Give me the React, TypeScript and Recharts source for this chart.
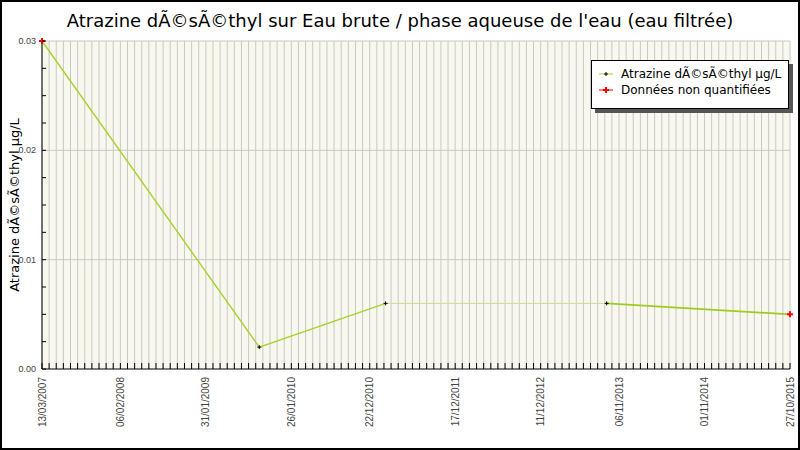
import { ComposedChart, Line, XAxis, YAxis, CartesianGrid, Legend } from "recharts";

const TITLE = "Atrazine dÃ©sÃ©thyl sur Eau brute / phase aqueuse de l'eau (eau filtrée)";
const Y_LABEL = "Atrazine dÃ©sÃ©thyl µg/L";

// samples
const sampleDates = ["13/03/2007", "13/09/2009", "27/02/2011", "15/09/2013", "27/10/2015"];
const sampleValues = [0.03, 0.002, 0.006, 0.006, 0.005];
const nonQuantified = [true, false, false, false, true];

// axis labels
const xTickLabels = ["13/03/2007", "06/02/2008", "31/01/2009", "26/01/2010", "22/12/2010", "17/12/2011", "11/12/2012", "06/11/2013", "01/11/2014", "27/10/2015"];
const yMajorTicks = [0, 0.01, 0.02, 0.03];
const yMinorStep = 0.0025;
const gridStepDays = 30;

const DAY = 86400000;
const toDay = (s: string) => {
  const [d, m, y] = s.split("/").map(Number);
  return Date.UTC(y, m - 1, d) / DAY;
};

const xStart = toDay(xTickLabels[0]);
const xEnd = toDay(xTickLabels[xTickLabels.length - 1]);
const xLabelDays = xTickLabels.map(toDay);
const xGridTicks: number[] = [];
for (let t = xStart; t <= xEnd + 0.5; t += gridStepDays) xGridTicks.push(t);
const yTicks: number[] = [];
for (let v = 0; v <= 0.03 + 1e-9; v += yMinorStep) yTicks.push(Number(v.toFixed(4)));

// line pieces, by sample index
const segments = [
  { key: "s1", from: 0, to: 2, color: "#a9d22c", width: 1.4 },
  { key: "s2", from: 2, to: 3, color: "#c6e190", width: 1 },
  { key: "s3", from: 3, to: 4, color: "#9fcb1e", width: 1.8 },
];

const data = sampleDates.map((d, i) => {
  const row: Record<string, number | null> = { t: toDay(d) };
  segments.forEach((s) => {
    row[s.key] = i >= s.from && i <= s.to ? sampleValues[i] : null;
  });
  row.q = nonQuantified[i] ? null : sampleValues[i];
  row.nq = nonQuantified[i] ? sampleValues[i] : null;
  return row;
});

const fmtDay = (t: number) => {
  const d = new Date(t * DAY);
  const p = (n: number) => String(n).padStart(2, "0");
  return `${p(d.getUTCDate())}/${p(d.getUTCMonth() + 1)}/${d.getUTCFullYear()}`;
};

function XTick({ x, y, payload }: any) {
  const isLabel = xLabelDays.some((t) => Math.abs(t - payload.value) < 0.5);
  return (
    <g>
      <line x1={x} y1={y} x2={x} y2={y - 6} stroke="#000" strokeWidth={1} />
      {isLabel && (
        <text
          x={x}
          y={y + 8}
          transform={`rotate(-90, ${x}, ${y + 8})`}
          textAnchor="end"
          dy="0.35em"
          fontSize={10}
          fill="#444"
          fontFamily="Liberation Sans, Arial, sans-serif"
        >
          {fmtDay(payload.value)}
        </text>
      )}
    </g>
  );
}

function YTick({ x, y, payload }: any) {
  const isMajor = yMajorTicks.some((v) => Math.abs(v - payload.value) < 1e-6);
  return (
    <g>
      <line x1={x} y1={y} x2={x + 4} y2={y} stroke="#000" strokeWidth={1} />
      {isMajor && (
        <text x={x - 6} y={y} dy="0.35em" textAnchor="end" fontSize={9} fill="#444" fontFamily="Liberation Sans, Arial, sans-serif">
          {payload.value.toFixed(2)}
        </text>
      )}
    </g>
  );
}

const Cross = ({ cx, cy, color, size, width }: any) => {
  if (cx == null || cy == null) return null;
  return (
    <g>
      <line x1={cx - size} y1={cy} x2={cx + size} y2={cy} stroke={color} strokeWidth={width} />
      <line x1={cx} y1={cy - size} x2={cx} y2={cy + size} stroke={color} strokeWidth={width} />
    </g>
  );
};

function LegendBox() {
  const items = [
    { label: "Atrazine dÃ©sÃ©thyl µg/L", line: "#a9d22c", mark: "#000", size: 2, w: 1 },
    { label: "Données non quantifiées", line: "#ff0000", mark: "#ff0000", size: 3, w: 2 },
  ];
  return (
    <div
      style={{
        width: 191,
        height: 42,
        border: "1px solid #000",
        background: "#fff",
        boxShadow: "4px 4px 0 #555",
        fontFamily: "DejaVu Sans, sans-serif",
        fontSize: 12,
        color: "#000",
        padding: "5px 0 0 5px",
        boxSizing: "content-box",
      }}
    >
      {items.map((it) => (
        <div key={it.label} style={{ display: "flex", alignItems: "center", height: 16 }}>
          <svg width={14} height={10} style={{ marginRight: 8, marginLeft: 2 }}>
            <line x1={0} y1={5} x2={14} y2={5} stroke={it.line} strokeWidth={1} />
            <line x1={7 - it.size} y1={5} x2={7 + it.size} y2={5} stroke={it.mark} strokeWidth={it.w} />
            <line x1={7} y1={5 - it.size} x2={7} y2={5 + it.size} stroke={it.mark} strokeWidth={it.w} />
          </svg>
          <span>{it.label}</span>
        </div>
      ))}
    </div>
  );
}

export default function App() {
  return (
    <div
      style={{
        position: "relative",
        width: 800,
        height: 450,
        boxSizing: "border-box",
        border: "2px solid #000",
        background: "#fff",
        overflow: "hidden",
      }}
    >
      <style>{`body{margin:0}`}</style>
      <div
        style={{
          position: "absolute",
          top: 8,
          left: 0,
          width: 796,
          textAlign: "center",
          fontFamily: "DejaVu Sans, sans-serif",
          fontSize: 18,
          color: "#000",
        }}
      >
        {TITLE}
      </div>
      <div style={{ position: "absolute", top: -2, left: -2 }}>
        <ComposedChart width={800} height={450} data={data} margin={{ top: 41, right: 10, bottom: 0, left: 0 }}>
          <CartesianGrid
            fill="#f8f8ef"
            stroke="#c8c8c8"
            strokeWidth={1}
            horizontalValues={[0.01, 0.02, 0.03]}
            verticalValues={xGridTicks}
          />
          <XAxis
            dataKey="t"
            type="number"
            domain={[xStart, xEnd]}
            ticks={xGridTicks}
            interval={0}
            height={81}
            tickSize={0}
            tickMargin={0}
            tickLine={false}
            axisLine={{ stroke: "#000" }}
            tick={<XTick />}
          />
          <YAxis
            type="number"
            domain={[0, 0.03]}
            ticks={yTicks}
            interval={0}
            width={42}
            tickSize={0}
            tickMargin={0}
            tickLine={false}
            axisLine={{ stroke: "#000" }}
            tick={<YTick />}
            label={({ viewBox }: any) => (
              <text
                x={14}
                y={viewBox.y + viewBox.height / 2}
                transform={`rotate(-90, 14, ${viewBox.y + viewBox.height / 2})`}
                textAnchor="middle"
                dy="0.35em"
                fontSize={13}
                fontFamily="DejaVu Sans, sans-serif"
                fill="#000"
              >
                {Y_LABEL}
              </text>
            )}
          />
          <Legend layout="vertical" align="center" verticalAlign="middle" content={<LegendBox />} wrapperStyle={{ top: 60, left: 591, width: "auto" }} />
          {segments.map((s) => (
            <Line
              key={s.key}
              dataKey={s.key}
              type="linear"
              stroke={s.color}
              strokeWidth={s.width}
              dot={false}
              activeDot={false}
              connectNulls={false}
              isAnimationActive={false}
              legendType="none"
            />
          ))}
          <Line
            dataKey="q"
            stroke="none"
            isAnimationActive={false}
            activeDot={false}
            legendType="none"
            dot={(p: any) => <Cross key={`q${p.index}`} cx={p.cx} cy={p.cy} color="#000" size={2} width={1} />}
          />
          <Line
            dataKey="nq"
            stroke="none"
            isAnimationActive={false}
            activeDot={false}
            legendType="none"
            dot={(p: any) => <Cross key={`nq${p.index}`} cx={p.cx} cy={p.cy} color="#ff0000" size={3} width={2} />}
          />
        </ComposedChart>
      </div>
    </div>
  );
}
